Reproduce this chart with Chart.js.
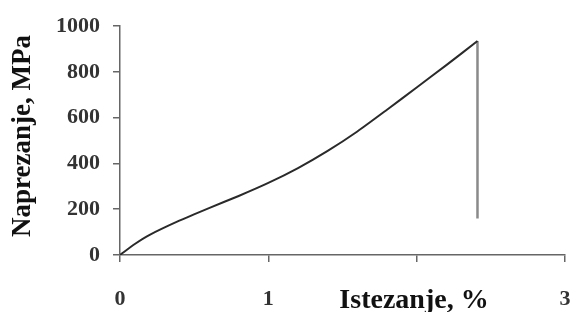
<!DOCTYPE html>
<html>
<head>
<meta charset="utf-8">
<script src="https://cdn.jsdelivr.net/npm/chart.js@4"></script>
<style>
html,body{margin:0;padding:0;background:#fff;}
#wrap{width:571px;height:312px;}
</style>
</head>
<body>
<div id="wrap"><canvas id="c" width="571" height="312"></canvas></div>
<script>
const strainX = [0, 0.1, 0.2, 0.4, 0.6, 0.8, 1.0, 1.2, 1.4, 1.6, 1.8, 2.0, 2.2, 2.41];
const stressY = [0, 48, 88, 150, 205, 258, 315, 380, 455, 540, 635, 732, 830, 935];
const dropX = [2.41, 2.41];
const dropY = [935, 160];
const xTicks = [0, 1, 2, 3];
const xTickLabels = ['0', '1', '', '3'];
const yTicks = [0, 200, 400, 600, 800, 1000];
const xTitle = 'Istezanje, %';
const yTitle = 'Naprezanje, MPa';

const curve = strainX.map((x, i) => ({x: x, y: stressY[i]}));
const drop = dropX.map((x, i) => ({x: x, y: dropY[i]}));
const SERIF = '"Liberation Serif", "Times New Roman", serif';

const titlesPlugin = {
  id: 'titlesPlugin',
  afterDraw(chart) {
    const ctx = chart.ctx;
    ctx.save();
    ctx.font = 'bold 28px ' + SERIF;
    ctx.fillStyle = '#111';
    ctx.textAlign = 'center';
    ctx.textBaseline = 'alphabetic';
    ctx.fillText(xTitle, 414, 308);
    ctx.font = 'bold 27px ' + SERIF;
    ctx.translate(30, 136);
    ctx.rotate(-Math.PI / 2);
    ctx.fillText(yTitle, 0, 0);
    ctx.restore();
  }
};

new Chart(document.getElementById('c'), {
  type: 'scatter',
  data: {
    datasets: [
      {data: curve, showLine: true, borderColor: '#2a2a2a', borderWidth: 2, pointRadius: 0, tension: 0.2, fill: false},
      {data: drop, showLine: true, borderColor: '#8a8a8a', borderWidth: 2.5, pointRadius: 0, fill: false}
    ]
  },
  options: {
    responsive: false,
    animation: false,
    devicePixelRatio: 1,
    layout: {padding: {left: 0, right: 6, top: 25, bottom: 0}},
    plugins: {legend: {display: false}, tooltip: {enabled: false}},
    scales: {
      x: {
        type: 'linear', min: 0, max: 3,
        afterBuildTicks: (s) => { s.ticks = xTicks.map(v => ({value: v})); },
        afterFit: (s) => { s.height = 57; s.paddingLeft = 0; s.paddingRight = 0; },
        grid: {drawOnChartArea: false, drawTicks: true, tickLength: 7, color: '#666', lineWidth: 1.5},
        border: {display: true, color: '#666', width: 1.5},
        ticks: {padding: 24, color: '#333', callback: (v) => xTickLabels[xTicks.indexOf(v)], font: {family: SERIF, weight: 'bold', size: 22}}
      },
      y: {
        type: 'linear', min: 0, max: 1000,
        afterBuildTicks: (s) => { s.ticks = yTicks.map(v => ({value: v})); },
        afterFit: (s) => { s.width = 120; },
        grid: {drawOnChartArea: false, drawTicks: true, tickLength: 7, color: '#666', lineWidth: 1.5},
        border: {display: true, color: '#666', width: 1.5},
        ticks: {padding: 13, color: '#333', callback: (v) => String(v), font: {family: SERIF, weight: 'bold', size: 22}}
      }
    }
  },
  plugins: [titlesPlugin]
});
</script>
</body>
</html>
